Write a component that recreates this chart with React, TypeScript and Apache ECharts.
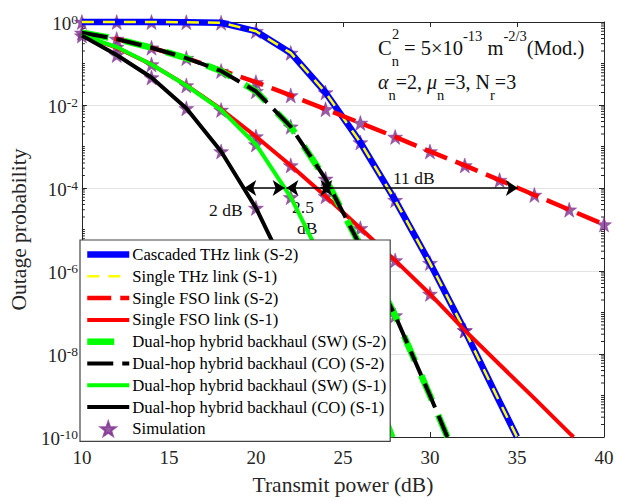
import React, { useEffect, useRef } from 'react';
import * as echarts from 'echarts';

const FONT = 'Liberation Serif';
const AXIS_COLOR = '#262626';

// Transmit power (dB) and outage probability of each curve
const thzPower = [10, 12, 14, 16, 18, 20, 22, 24, 26, 28, 30, 32, 34, 35];
const cascadedThzS2 = [0.999, 0.998, 0.996, 0.99, 0.96, 0.6, 0.18, 0.02, 1.25e-3, 5.1e-5, 1.55e-6, 3.7e-8, 7e-10, 1e-10];
const singleThzS1 = [0.999, 0.998, 0.996, 0.99, 0.96, 0.6, 0.18, 0.02, 1.25e-3, 5.1e-5, 1.55e-6, 3.7e-8, 7e-10, 1e-10];

const fsoS2Power = [10, 12, 14, 16, 18, 20, 22, 24, 26, 28, 30, 32, 34, 36, 38, 40];
const singleFsoS2 = [0.55, 0.39, 0.24, 0.135, 0.069, 0.0355, 0.017, 7.9e-3, 3.7e-3, 1.7e-3, 7.6e-4, 3.5e-4, 1.55e-4, 6.8e-5, 3.0e-5, 1.32e-5];

const fsoS1Power = [10, 12, 14, 16, 18, 20, 22, 24, 26, 28, 30, 32, 34, 36, 38, 38.25];
const singleFsoS1 = [0.47, 0.24, 0.095, 0.03, 7.9e-3, 1.74e-3, 3.5e-4, 6.3e-5, 1.07e-5, 1.8e-6, 2.8e-7, 3.7e-8, 5.6e-9, 8.5e-10, 1.26e-10, 1e-10];

const dualS2Power = [10, 12, 14, 16, 18, 20, 22, 24, 26, 28, 30, 31];
const dualSwS2 = [0.55, 0.39, 0.24, 0.135, 0.066, 0.0214, 3.0e-3, 1.66e-4, 4.0e-6, 8.5e-8, 1.0e-9, 1e-10];
const dualCoS2 = [0.55, 0.39, 0.24, 0.135, 0.066, 0.0214, 3.0e-3, 1.66e-4, 4.0e-6, 8.5e-8, 1.0e-9, 1e-10];

const dualSwS1Power = [10, 12, 14, 16, 18, 20, 22, 24, 26, 27.9];
const dualSwS1 = [0.47, 0.25, 0.095, 0.0295, 7.6e-3, 1.12e-3, 6.0e-5, 1.26e-6, 1.4e-8, 1e-10];

const dualCoS1Power = [10, 12, 14, 16, 18, 20, 22, 24, 25.6];
const dualCoS1 = [0.47, 0.16, 0.046, 8.3e-3, 7.6e-4, 3.3e-5, 6.3e-7, 6.3e-9, 1e-10];

// powers at which simulation markers are shown, per curve
const simThzPower = [10, 12, 14, 16, 18, 20, 22, 24, 26, 28, 30, 32];
const simFsoS2Power = [20, 22, 24, 26, 28, 30, 32, 34, 36, 38, 40];
const simFsoS1Power = [20, 22, 24, 26, 28, 30, 32];
const simDualS2Power = [10, 12, 14, 16, 18, 20, 22, 24, 26, 28];
const simDualSwS1Power = [10, 12, 14, 16, 18, 20, 22, 24];
const simDualCoS1Power = [12, 14, 16, 18, 20, 22];

// gap arrows at P_out = 1e-4 : [from dB, to dB]
const arrowLevel = 1e-4;
const gapArrows = [
  [19.33, 21.65],
  [21.75, 24.4],
  [23.7, 35.05],
];

const xTicks = { min: 10, max: 40, interval: 5 };

const seriesNames = [
  'Cascaded THz link (S-2)',
  'Single THz link (S-1)',
  'Single FSO link (S-2)',
  'Single FSO link (S-1)',
  'Dual-hop hybrid backhaul (SW) (S-2)',
  'Dual-hop hybrid backhaul (CO) (S-2)',
  'Dual-hop hybrid backhaul (SW) (S-1)',
  'Dual-hop hybrid backhaul (CO) (S-1)',
  'Simulation',
];

const STAR =
  'path://M0,-10 L2.35,-3.24 L9.51,-3.09 L3.8,1.24 L5.88,8.09 L0,4 L-5.88,8.09 L-3.8,1.24 L-9.51,-3.09 L-2.35,-3.24 Z';

function pairs(xs: number[], ys: number[]) {
  return xs.map((x, i) => [x, ys[i]]);
}
function pick(xs: number[], ys: number[], at: number[]) {
  return at.map((p) => [p, ys[xs.indexOf(p)]]);
}

export default function App() {
  const ref = useRef<HTMLDivElement>(null);
  useEffect(() => {
    if (!ref.current) return;
    const chart = echarts.init(ref.current, null, { renderer: 'svg' });

    const lineSeries = (name: string, data: number[][], color: string, width: number, dash: number[] | 'solid') => ({
      name,
      type: 'line',
      data,
      symbol: 'none',
      clip: false,
      lineStyle: { color, width, type: dash, cap: 'butt' },
      itemStyle: { color },
      emphasis: { disabled: true },
      silent: true,
    });

    const simData = [
      ...pick(thzPower, cascadedThzS2, simThzPower),
      ...pick(fsoS2Power, singleFsoS2, simFsoS2Power),
      ...pick(fsoS1Power, singleFsoS1, simFsoS1Power),
      ...pick(dualS2Power, dualSwS2, simDualS2Power),
      ...pick(dualSwS1Power, dualSwS1, simDualSwS1Power),
      ...pick(dualCoS1Power, dualCoS1, simDualCoS1Power),
    ];

    const minorTicks: number[][] = [];
    for (let d = -10; d < 0; d++) {
      for (let k = 1; k <= 9; k++) {
        if (k === 1 && d % 2 === 0) continue;
        minorTicks.push([10, k * Math.pow(10, d)]);
      }
    }

    const yLabel = {
      formatter: (v: number) => `{b|10}{s|${Math.round(Math.log10(v))}}`,
      margin: 4,
      rich: {
        b: { fontFamily: FONT, fontSize: 19, color: AXIS_COLOR, lineHeight: 20, verticalAlign: 'middle', padding: [3, 0, 0, 0] },
        s: { fontFamily: FONT, fontSize: 13.5, color: AXIS_COLOR, lineHeight: 12, verticalAlign: 'top' },
      },
    };

    const txt = { fontFamily: FONT, fill: '#111' };
    const hiddenSymbol = { color: 'rgba(0,0,0,0)', borderWidth: 0, opacity: 0 };

    chart.setOption({
      animation: false,
      backgroundColor: '#fff',
      grid: { left: 80, right: 27, top: 22, bottom: 60 },
      xAxis: [
        {
          type: 'value',
          ...xTicks,
          name: 'Transmit power (dB)',
          nameLocation: 'middle',
          nameGap: 37,
          nameTextStyle: { fontFamily: FONT, fontSize: 21.5, color: AXIS_COLOR },
          axisLine: { onZero: false, lineStyle: { color: AXIS_COLOR, width: 1 } },
          axisTick: { inside: true, length: 5, lineStyle: { color: AXIS_COLOR } },
          axisLabel: { fontFamily: FONT, fontSize: 19, color: AXIS_COLOR, margin: 11 },
          splitLine: { show: false },
        },
        {
          type: 'value',
          ...xTicks,
          position: 'top',
          axisLine: { onZero: false, lineStyle: { color: AXIS_COLOR, width: 1 } },
          axisTick: { inside: true, length: 5, lineStyle: { color: AXIS_COLOR } },
          axisLabel: { show: false },
          splitLine: { show: false },
        },
      ],
      yAxis: [
        {
          type: 'log',
          logBase: 10,
          min: 1e-10,
          max: 1,
          interval: 2,
          name: 'Outage probability',
          nameLocation: 'middle',
          nameGap: 45,
          nameTextStyle: { fontFamily: FONT, fontSize: 21.5, color: AXIS_COLOR },
          axisLine: { show: true, onZero: false, lineStyle: { color: AXIS_COLOR, width: 1 } },
          axisTick: { show: true, inside: true, length: 5, lineStyle: { color: AXIS_COLOR } },
          axisLabel: yLabel,
          splitLine: { show: true, lineStyle: { color: '#e3e3e3', width: 1 } },
        },
        {
          type: 'log',
          logBase: 10,
          min: 1e-10,
          max: 1,
          interval: 2,
          position: 'right',
          axisLine: { show: true, onZero: false, lineStyle: { color: AXIS_COLOR, width: 1 } },
          axisTick: { show: true, inside: true, length: 5, lineStyle: { color: AXIS_COLOR } },
          axisLabel: { show: false },
          splitLine: { show: false },
        },
      ],
      legend: {
        data: seriesNames.map((name, i) => (i < 8 ? { name, itemStyle: hiddenSymbol } : { name })),
        orient: 'vertical',
        left: 80,
        top: 240,
        itemWidth: 42,
        itemHeight: 14,
        itemGap: 4.8,
        padding: [6, 4, 4, 4],
        backgroundColor: '#fff',
        borderColor: '#444',
        borderWidth: 1.2,
        borderRadius: 0,
        selectedMode: false,
        lineStyle: { width: 'inherit' },
        textStyle: { fontFamily: FONT, fontSize: 16.7, color: '#000', padding: [0, 0, 0, -2] },
      },
      graphic: [
        { type: 'text', left: 209, top: 201, style: { ...txt, text: '2 dB', fontSize: 17.5 } },
        { type: 'text', left: 292, top: 198, style: { ...txt, text: '2.5', fontSize: 17.5 } },
        { type: 'text', left: 297, top: 219, style: { ...txt, text: 'dB', fontSize: 17.5 } },
        { type: 'text', left: 393, top: 169, style: { ...txt, text: '11 dB', fontSize: 17.5 } },
        {
          type: 'text',
          x: 378,
          y: 48,
          style: {
            text: '{m|C}{sub|n}{m| = 5×10}{sup|-13}{m| m}{sup|-2/3}{m|(Mod.)}',
            verticalAlign: 'middle',
            rich: {
              m: { fontFamily: FONT, fontSize: 20.5, fill: '#111', lineHeight: 40, verticalAlign: 'middle' },
              sup: { fontFamily: FONT, fontSize: 14.5, fill: '#111', lineHeight: 10, verticalAlign: 'top' },
              sub: { fontFamily: FONT, fontSize: 14.5, fill: '#111', lineHeight: 18, verticalAlign: 'bottom' },
            },
          },
        },
        { type: 'text', x: 392, y: 34, style: { ...txt, text: '2', fontSize: 14.5, verticalAlign: 'middle' } },
        {
          type: 'text',
          x: 378,
          y: 82,
          style: {
            text: '{g|α}{sub|n}{m|=2, }{g|μ}{sub|n}{m|=3, N}{sub|r}{m|=3}',
            verticalAlign: 'middle',
            rich: {
              m: { fontFamily: FONT, fontSize: 20, fill: '#111', lineHeight: 40, verticalAlign: 'middle' },
              g: { fontFamily: FONT, fontSize: 20, fontStyle: 'italic', fill: '#111', lineHeight: 40, verticalAlign: 'middle' },
              sub: { fontFamily: FONT, fontSize: 14.5, fill: '#111', lineHeight: 18, verticalAlign: 'bottom' },
            },
          },
        },
      ],
      series: [
        lineSeries(seriesNames[0], pairs(thzPower, cascadedThzS2), '#0000ff', 6.5, 'solid'),
        lineSeries(seriesNames[1], pairs(thzPower, singleThzS1), '#ffff00', 2.5, [12, 9]),
        lineSeries(seriesNames[2], pairs(fsoS2Power, singleFsoS2), '#ff0000', 4.5, [24, 9]),
        lineSeries(seriesNames[3], pairs(fsoS1Power, singleFsoS1), '#ff0000', 4, 'solid'),
        lineSeries(seriesNames[4], pairs(dualS2Power, dualSwS2), '#00ff00', 6.5, [27, 16]),
        lineSeries(seriesNames[5], pairs(dualS2Power, dualCoS2), '#000000', 4, [26, 9]),
        lineSeries(seriesNames[6], pairs(dualSwS1Power, dualSwS1), '#00ff00', 4, 'solid'),
        lineSeries(seriesNames[7], pairs(dualCoS1Power, dualCoS1), '#000000', 4, 'solid'),
        {
          name: seriesNames[8],
          type: 'scatter',
          data: simData,
          symbol: STAR,
          symbolSize: 15,
          clip: false,
          silent: true,
          itemStyle: { color: '#7E2F8E', borderColor: '#7E2F8E', borderWidth: 0.5 },
          markLine: {
            silent: true,
            symbol: ['arrow', 'arrow'],
            symbolSize: 12,
            label: { show: false },
            lineStyle: { color: '#000', width: 1.5, type: 'solid' },
            emphasis: { disabled: true },
            data: gapArrows.map(([a, b]) => [{ coord: [a, arrowLevel] }, { coord: [b, arrowLevel] }]),
          },
        },
        {
          name: 'minor-ticks',
          type: 'custom',
          data: minorTicks,
          silent: true,
          clip: false,
          renderItem: (_p: any, api: any) => {
            const v = api.value(1);
            const l = api.coord([10, v]);
            const r = api.coord([40, v]);
            return {
              type: 'group',
              children: [
                { type: 'line', shape: { x1: l[0], y1: l[1], x2: l[0] + 3, y2: l[1] }, style: { stroke: AXIS_COLOR, lineWidth: 1 } },
                { type: 'line', shape: { x1: r[0] - 3, y1: r[1], x2: r[0], y2: r[1] }, style: { stroke: AXIS_COLOR, lineWidth: 1 } },
              ],
            };
          },
        },
      ],
    });
    return () => chart.dispose();
  }, []);
  return <div ref={ref} style={{ width: 631, height: 501, position: 'absolute', left: 0, top: 0 }} />;
}
